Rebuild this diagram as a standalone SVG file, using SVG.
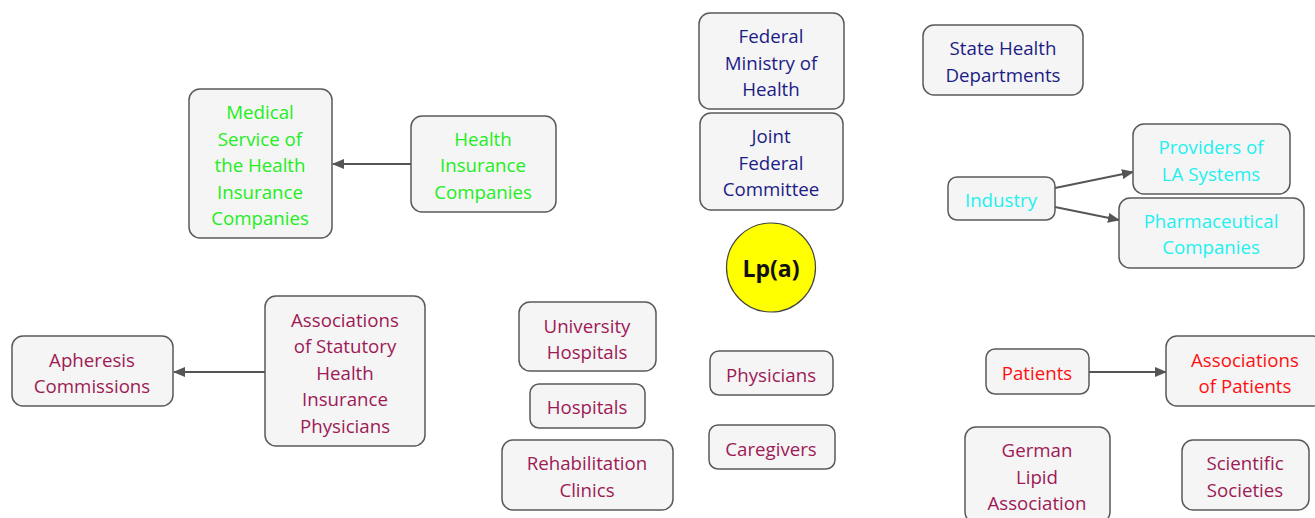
<svg xmlns="http://www.w3.org/2000/svg" width="1315" height="518" viewBox="0 0 1315 518">
<style>
.box{fill:#f5f5f5;stroke:#5a5a5a;stroke-width:1.5}
text{font-family:"Open Sans","Noto Sans",sans-serif;font-size:18.7px;text-anchor:middle;dominant-baseline:central}
.g{fill:#22ee22}.n{fill:#1c1c86}.c{fill:#22f0f0}.m{fill:#9e1a55}.r{fill:#ff1010}
.edge{stroke:#555;stroke-width:1.8;fill:none;marker-end:url(#ah)}
</style>
<defs>
<marker id="ah" markerWidth="12" markerHeight="10" refX="11" refY="5" orient="auto" markerUnits="userSpaceOnUse">
<path d="M0,0 L12,5 L0,10 z" fill="#555"/>
</marker>
</defs>
<rect width="1315" height="518" fill="#fff"/>
<g id="connectors">
<line class="edge" x1="411" y1="164" x2="333" y2="164"/>
<line class="edge" x1="265" y1="372" x2="174" y2="372"/>
<line class="edge" x1="1055" y1="188" x2="1133" y2="172"/>
<line class="edge" x1="1055" y1="207" x2="1119" y2="220"/>
<line class="edge" x1="1089" y1="372" x2="1166" y2="372"/>
</g>
<g id="medical-service"><rect class="box" x="189" y="89" width="143" height="149" rx="11"/>
<text class="g"><tspan x="260" y="111">Medical</tspan><tspan x="260" y="138">Service of</tspan><tspan x="260" y="164">the Health</tspan><tspan x="260" y="191">Insurance</tspan><tspan x="260" y="217">Companies</tspan></text></g>
<g id="health-insurance"><rect class="box" x="411" y="116" width="145" height="96" rx="11"/>
<text class="g"><tspan x="483" y="138">Health</tspan><tspan x="483" y="164">Insurance</tspan><tspan x="483" y="191">Companies</tspan></text></g>
<g id="federal-ministry"><rect class="box" x="699" y="13" width="145" height="96" rx="11"/>
<text class="n"><tspan x="771" y="35">Federal</tspan><tspan x="771" y="62">Ministry of</tspan><tspan x="771" y="88">Health</tspan></text></g>
<g id="joint-federal"><rect class="box" x="700" y="113" width="143" height="97" rx="11"/>
<text class="n"><tspan x="771" y="135">Joint</tspan><tspan x="771" y="162">Federal</tspan><tspan x="771" y="188">Committee</tspan></text></g>
<g id="state-health"><rect class="box" x="923" y="25" width="160" height="70" rx="11"/>
<text class="n"><tspan x="1003" y="47">State Health</tspan><tspan x="1003" y="74">Departments</tspan></text></g>
<g id="lpa"><circle cx="771" cy="267.5" r="44.5" fill="#ffff00" stroke="#444" stroke-width="1.2"/>
<text x="771" y="268" style="font-size:23px;font-weight:bold;fill:#111">Lp(a)</text></g>
<g id="industry"><rect class="box" x="948" y="177" width="107" height="43" rx="9"/>
<text class="c" x="1001" y="199">Industry</text></g>
<g id="providers"><rect class="box" x="1133" y="124" width="157" height="70" rx="11"/>
<text class="c"><tspan x="1211" y="146">Providers of</tspan><tspan x="1211" y="173">LA Systems</tspan></text></g>
<g id="pharma"><rect class="box" x="1119" y="198" width="185" height="70" rx="11"/>
<text class="c"><tspan x="1211" y="220">Pharmaceutical</tspan><tspan x="1211" y="246">Companies</tspan></text></g>
<g id="apheresis"><rect class="box" x="12" y="336" width="161" height="70" rx="11"/>
<text class="m"><tspan x="92" y="359">Apheresis</tspan><tspan x="92" y="385">Commissions</tspan></text></g>
<g id="assoc-statutory"><rect class="box" x="265" y="296" width="160" height="150" rx="11"/>
<text class="m"><tspan x="345" y="319">Associations</tspan><tspan x="345" y="345">of Statutory</tspan><tspan x="345" y="372">Health</tspan><tspan x="345" y="398">Insurance</tspan><tspan x="345" y="425">Physicians</tspan></text></g>
<g id="university-hospitals"><rect class="box" x="519" y="302" width="137" height="69" rx="11"/>
<text class="m"><tspan x="587" y="325">University</tspan><tspan x="587" y="351">Hospitals</tspan></text></g>
<g id="hospitals"><rect class="box" x="530" y="384" width="115" height="44" rx="9"/>
<text class="m" x="587" y="406">Hospitals</text></g>
<g id="rehab"><rect class="box" x="502" y="440" width="171" height="70" rx="11"/>
<text class="m"><tspan x="587" y="462">Rehabilitation</tspan><tspan x="587" y="489">Clinics</tspan></text></g>
<g id="physicians"><rect class="box" x="710" y="351" width="123" height="44" rx="9"/>
<text class="m" x="771" y="374">Physicians</text></g>
<g id="caregivers"><rect class="box" x="709" y="425" width="126" height="44" rx="9"/>
<text class="m" x="771" y="448">Caregivers</text></g>
<g id="patients"><rect class="box" x="986" y="349" width="103" height="45" rx="9"/>
<text class="r" x="1037" y="372">Patients</text></g>
<g id="assoc-patients"><rect class="box" x="1166" y="336" width="158" height="70" rx="11"/>
<text class="r"><tspan x="1245" y="359">Associations</tspan><tspan x="1245" y="385">of Patients</tspan></text></g>
<g id="german-lipid"><rect class="box" x="965" y="427" width="145" height="96" rx="11"/>
<text class="m"><tspan x="1037" y="449">German</tspan><tspan x="1037" y="476">Lipid</tspan><tspan x="1037" y="502">Association</tspan></text></g>
<g id="scientific"><rect class="box" x="1182" y="440" width="127" height="70" rx="11"/>
<text class="m"><tspan x="1245" y="462">Scientific</tspan><tspan x="1245" y="489">Societies</tspan></text></g>
</svg>
